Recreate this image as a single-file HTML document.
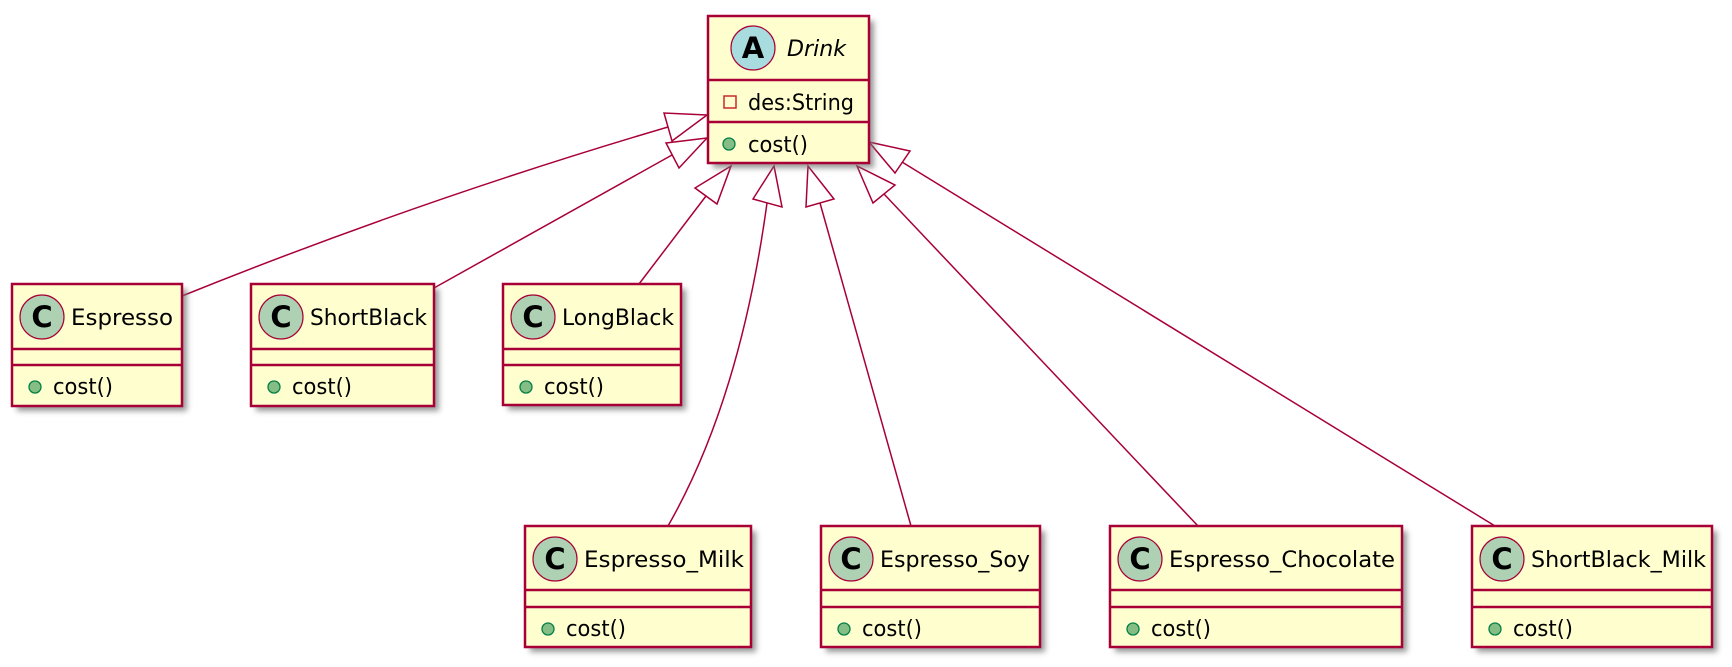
<!DOCTYPE html>
<html><head><meta charset="utf-8"><style>
html,body{margin:0;padding:0;background:#fff;}
svg{display:block;}
text{font-family:"DejaVu Sans","Liberation Sans",sans-serif;fill:#000;}
</style></head><body>
<svg width="1732" height="667" viewBox="0 0 1732 667" xmlns="http://www.w3.org/2000/svg">
<defs>
<filter id="sh" x="-10%" y="-10%" width="130%" height="130%">
<feGaussianBlur stdDeviation="3"/>
</filter>
<g id="cc">
<circle cx="0" cy="0" r="22" fill="#ADD1B2" stroke="#A80036" stroke-width="1.2"/>
<text x="0" y="10" text-anchor="middle" font-size="29" font-weight="bold">C</text>
</g>
<g id="gm"><circle cx="0" cy="0" r="6" fill="#84BE84" stroke="#038048" stroke-width="1.3"/></g>
</defs>
<g stroke="#A80036" stroke-width="1.5" fill="none">
<path d="M668,127 Q420,200 182,296"/>
<polygon points="707,115 664,113 672,141" fill="#fff"/>
<path d="M672,155 L434,288"/>
<polygon points="707,138 666,143 679,168" fill="#fff"/>
<path d="M706,196 L639,284"/>
<polygon points="731,166 695,188 717,204" fill="#fff"/>
<path d="M767,203 Q740,400 668,526"/>
<polygon points="774,166 753,199 782,207" fill="#fff"/>
<path d="M820,203 L911,526"/>
<polygon points="808,166 806,207 834,199" fill="#fff"/>
<path d="M884,194 L1198,526"/>
<polygon points="857,166 873,203 895,185" fill="#fff"/>
<path d="M902,162 L1495,526"/>
<polygon points="869,142 895,173 910,151" fill="#fff"/>
</g>

<!-- Drink -->
<rect x="713" y="21" width="161" height="147" fill="#777" opacity="0.75" filter="url(#sh)"/>
<rect x="708" y="16" width="161" height="147" fill="#FEFECE" stroke="#A80036" stroke-width="2.5"/>
<line x1="708" y1="80" x2="869" y2="80" stroke="#A80036" stroke-width="2.5"/>
<line x1="708" y1="122" x2="869" y2="122" stroke="#A80036" stroke-width="2.5"/>
<circle cx="753" cy="48" r="22" fill="#A9DCDF" stroke="#A80036" stroke-width="1.2"/>
<text x="753" y="58" text-anchor="middle" font-size="29" font-weight="bold">A</text>
<text x="787" y="56" font-size="22" font-style="italic" textLength="59" lengthAdjust="spacingAndGlyphs">Drink</text>
<rect x="724" y="96" width="12" height="12" fill="none" stroke="#C82930" stroke-width="1.5"/>
<text x="748" y="110" font-size="22" textLength="106" lengthAdjust="spacingAndGlyphs">des:String</text>
<use href="#gm" x="729" y="144"/>
<text x="748" y="152" font-size="22" textLength="60" lengthAdjust="spacingAndGlyphs">cost()</text>

<!-- Espresso -->
<g transform="translate(12,284)">
<rect x="5" y="5" width="170" height="122" fill="#777" opacity="0.75" filter="url(#sh)"/>
<rect x="0" y="0" width="170" height="122" fill="#FEFECE" stroke="#A80036" stroke-width="2.5"/>
<line x1="0" y1="65" x2="170" y2="65" stroke="#A80036" stroke-width="2.5"/>
<line x1="0" y1="81" x2="170" y2="81" stroke="#A80036" stroke-width="2.5"/>
<use href="#cc" x="30" y="33"/>
<text x="59" y="41" font-size="22" textLength="102" lengthAdjust="spacingAndGlyphs">Espresso</text>
<use href="#gm" x="23" y="103"/>
<text x="41" y="110" font-size="22" textLength="60" lengthAdjust="spacingAndGlyphs">cost()</text>
</g>
<!-- ShortBlack -->
<g transform="translate(251,284)">
<rect x="5" y="5" width="183" height="122" fill="#777" opacity="0.75" filter="url(#sh)"/>
<rect x="0" y="0" width="183" height="122" fill="#FEFECE" stroke="#A80036" stroke-width="2.5"/>
<line x1="0" y1="65" x2="183" y2="65" stroke="#A80036" stroke-width="2.5"/>
<line x1="0" y1="81" x2="183" y2="81" stroke="#A80036" stroke-width="2.5"/>
<use href="#cc" x="30" y="33"/>
<text x="59" y="41" font-size="22" textLength="117" lengthAdjust="spacingAndGlyphs">ShortBlack</text>
<use href="#gm" x="23" y="103"/>
<text x="41" y="110" font-size="22" textLength="60" lengthAdjust="spacingAndGlyphs">cost()</text>
</g>
<!-- LongBlack -->
<g transform="translate(503,284)">
<rect x="5" y="5" width="178" height="121" fill="#777" opacity="0.75" filter="url(#sh)"/>
<rect x="0" y="0" width="178" height="121" fill="#FEFECE" stroke="#A80036" stroke-width="2.5"/>
<line x1="0" y1="65" x2="178" y2="65" stroke="#A80036" stroke-width="2.5"/>
<line x1="0" y1="81" x2="178" y2="81" stroke="#A80036" stroke-width="2.5"/>
<use href="#cc" x="30" y="33"/>
<text x="59" y="41" font-size="22" textLength="112" lengthAdjust="spacingAndGlyphs">LongBlack</text>
<use href="#gm" x="23" y="103"/>
<text x="41" y="110" font-size="22" textLength="60" lengthAdjust="spacingAndGlyphs">cost()</text>
</g>
<!-- Espresso_Milk -->
<g transform="translate(525,526)">
<rect x="5" y="5" width="226" height="121" fill="#777" opacity="0.75" filter="url(#sh)"/>
<rect x="0" y="0" width="226" height="121" fill="#FEFECE" stroke="#A80036" stroke-width="2.5"/>
<line x1="0" y1="64" x2="226" y2="64" stroke="#A80036" stroke-width="2.5"/>
<line x1="0" y1="81" x2="226" y2="81" stroke="#A80036" stroke-width="2.5"/>
<use href="#cc" x="30" y="33"/>
<text x="59" y="41" font-size="22" textLength="160" lengthAdjust="spacingAndGlyphs">Espresso_Milk</text>
<use href="#gm" x="23" y="103"/>
<text x="41" y="110" font-size="22" textLength="60" lengthAdjust="spacingAndGlyphs">cost()</text>
</g>
<!-- Espresso_Soy -->
<g transform="translate(821,526)">
<rect x="5" y="5" width="219" height="121" fill="#777" opacity="0.75" filter="url(#sh)"/>
<rect x="0" y="0" width="219" height="121" fill="#FEFECE" stroke="#A80036" stroke-width="2.5"/>
<line x1="0" y1="64" x2="219" y2="64" stroke="#A80036" stroke-width="2.5"/>
<line x1="0" y1="81" x2="219" y2="81" stroke="#A80036" stroke-width="2.5"/>
<use href="#cc" x="30" y="33"/>
<text x="59" y="41" font-size="22" textLength="150" lengthAdjust="spacingAndGlyphs">Espresso_Soy</text>
<use href="#gm" x="23" y="103"/>
<text x="41" y="110" font-size="22" textLength="60" lengthAdjust="spacingAndGlyphs">cost()</text>
</g>
<!-- Espresso_Chocolate -->
<g transform="translate(1110,526)">
<rect x="5" y="5" width="292" height="121" fill="#777" opacity="0.75" filter="url(#sh)"/>
<rect x="0" y="0" width="292" height="121" fill="#FEFECE" stroke="#A80036" stroke-width="2.5"/>
<line x1="0" y1="64" x2="292" y2="64" stroke="#A80036" stroke-width="2.5"/>
<line x1="0" y1="81" x2="292" y2="81" stroke="#A80036" stroke-width="2.5"/>
<use href="#cc" x="30" y="33"/>
<text x="59" y="41" font-size="22" textLength="226" lengthAdjust="spacingAndGlyphs">Espresso_Chocolate</text>
<use href="#gm" x="23" y="103"/>
<text x="41" y="110" font-size="22" textLength="60" lengthAdjust="spacingAndGlyphs">cost()</text>
</g>
<!-- ShortBlack_Milk -->
<g transform="translate(1472,526)">
<rect x="5" y="5" width="240" height="121" fill="#777" opacity="0.75" filter="url(#sh)"/>
<rect x="0" y="0" width="240" height="121" fill="#FEFECE" stroke="#A80036" stroke-width="2.5"/>
<line x1="0" y1="64" x2="240" y2="64" stroke="#A80036" stroke-width="2.5"/>
<line x1="0" y1="81" x2="240" y2="81" stroke="#A80036" stroke-width="2.5"/>
<use href="#cc" x="30" y="33"/>
<text x="59" y="41" font-size="22" textLength="175" lengthAdjust="spacingAndGlyphs">ShortBlack_Milk</text>
<use href="#gm" x="23" y="103"/>
<text x="41" y="110" font-size="22" textLength="60" lengthAdjust="spacingAndGlyphs">cost()</text>
</g>
</svg>
</body></html>
